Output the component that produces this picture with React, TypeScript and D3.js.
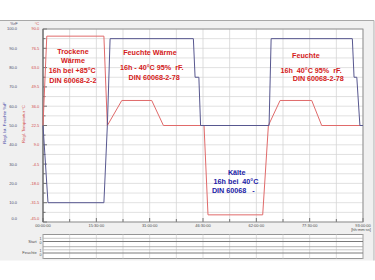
import React, { useEffect } from 'react';
import * as d3 from 'd3';

// Time (hours) and controller set values
const tempTimes = [0, 1.1, 17.7, 18.7, 22.9, 31.6, 35.0, 46.8, 47.95, 63.85, 65.5, 68.9, 78.1, 81.0, 93];
const tempValues = [22.5, 85, 85, 22.5, 40, 40, 22.5, 22.5, -40, -40, 22.5, 40, 40, 22.5, 22.5];
const humTimes = [0, 1.45, 17.7, 18.7, 19.5, 43.7, 44.2, 45.3, 45.8, 65.7, 66.3, 89.9, 90.4, 91.2, 92.1, 93];
const humValues = [50, 10, 10, 50, 95, 95, 75, 75, 50, 50, 95, 95, 75, 75, 50, 50];

const humTicks = [0, 10, 20, 30, 40, 50, 60, 70, 80, 90, 100];
const tempTicks = [-45, -31.5, -18, -4.5, 9, 22.5, 36, 49.5, 63, 76.5, 90];
const timeTicks = [0, 15.5, 31, 46.5, 62, 77.5, 93];
const timeTickLabels = ['00:00:00', '15:30:00', '31:00:00', '46:30:00', '62:00:00', '77:30:00', '93:00:00'];

const textDry = ['Trockene', 'Wärme', '16h bei +85°C', 'DIN 60068-2-2'];
const textDamp = ['Feuchte Wärme', '16h - 40°C 95%  rF.', 'DIN 60068-2-78'];
const textCold = ['Kälte', '16h bei  40°C', 'DIN 60068   -'];
const textHum = ['Feuchte', '16h  40°C 95%  rF.', 'DIN 60068-2-78'];
const digitalChannels = ['Start', 'Feuchte'];

export default function App() {
  useEffect(() => {
    document.body.style.margin = '0';
  }, []);

  const W = 375, H = 280;
  const L = 43, R = 363, T = 29, B = 222;
  const x = d3.scaleLinear().domain([0, 93]).range([L, R]);
  const yH = d3.scaleLinear().domain([0, 100]).range([B, T]);
  const yT = d3.scaleLinear().domain([-45, 90]).range([B, T]);

  const tempLine = d3.line<number>().x((_, i) => x(tempTimes[i])).y((d) => yT(d));
  const humLine = d3.line<number>().x((_, i) => x(humTimes[i])).y((d) => yH(d));

  const gridY = d3.range(0, 100.01, 5);
  const gridX = d3.range(0, 93.01, 7.75);

  const redText = '#d42020';
  const blueText = '#1a1aa6';
  const font = 'Arial, "Liberation Sans", sans-serif';

  const annot = (lines: string[], xs: number[], ys: number[], color: string, key: string) => (
    <g key={key} fill={color} fontFamily={font} fontWeight="bold" fontSize={7.2} textAnchor="middle" style={{ whiteSpace: 'pre' }}>
      {lines.map((t, i) => (
        <text key={i} x={xs[i]} y={ys[i]} dy="0.35em" xmlSpace="preserve">{t}</text>
      ))}
    </g>
  );

  const panelTop = 234.5, panelBot = 258.5;

  return (
    <svg width={W} height={H} style={{ position: 'absolute', left: 0, top: 0, display: 'block' }}>
      <rect x={0} y={0} width={W} height={H} fill="#ffffff" />
      <rect x={0} y={20.5} width={374} height={240} fill="#f0f0f0" />
      <line x1={0} x2={374} y1={20.5} y2={20.5} stroke="#a8a8a8" />
      <line x1={374} x2={374} y1={20.5} y2={260.5} stroke="#b0b0b0" />

      {/* plot area */}
      <rect x={L} y={T} width={R - L} height={B - T} fill="#ffffff" />
      {gridY.map((v) => (
        <line key={'gy' + v} x1={L} x2={R} y1={yH(v)} y2={yH(v)} stroke="#d9d9d9" strokeWidth={0.8} />
      ))}
      {gridX.map((v) => (
        <line key={'gx' + v} x1={x(v)} x2={x(v)} y1={T} y2={B} stroke="#d4d4d4" strokeWidth={0.8} />
      ))}
      {/* left ticks */}
      {gridY.map((v) => (
        <line key={'lt' + v} x1={L} x2={L + (v % 10 === 0 ? 4 : 2.5)} y1={yH(v)} y2={yH(v)} stroke="#555" strokeWidth={0.8} />
      ))}
      {/* bottom ticks */}
      {gridX.map((v, i) => (
        <line key={'bt' + v} x1={x(v)} x2={x(v)} y1={B} y2={B - (i % 2 === 0 ? 4 : 3)} stroke="#555" strokeWidth={0.8} />
      ))}
      <rect x={L} y={T} width={R - L} height={B - T} fill="none" stroke="#8a8a8a" strokeWidth={0.9} />
      <line x1={L} x2={L} y1={T} y2={B} stroke="#555" strokeWidth={0.9} />

      {/* data lines */}
      <path d={tempLine(tempValues) || ''} fill="none" stroke="#e06a6a" strokeWidth={1} />
      <path d={humLine(humValues) || ''} fill="none" stroke="#57578f" strokeWidth={1} />

      {/* annotations */}
      {annot(textDry, [x(8.7), x(8.7), x(8.5), x(8.7)], [51.7, 60.2, 70, 80.7], redText, 'dry')}
      {annot(textDamp, [x(31.1), x(31.6), x(32.3)], [52.7, 67.7, 77], redText, 'damp')}
      {annot(textCold, [x(56.3), x(56.1), x(55.3)], [172.3, 181, 190], blueText, 'cold')}
      {annot(textHum, [x(76.4), x(77.9), x(80.0)], [55.7, 70.3, 78.7], redText, 'hum')}

      {/* y tick labels */}
      <g fontFamily={font} fontSize={4} textAnchor="end">
        {humTicks.map((v) => (
          <text key={'hl' + v} x={17} y={Math.min(yH(v), 219)} dy="0.35em" fill="#4a4a6a">{v.toFixed(1)}</text>
        ))}
        {tempTicks.map((v) => (
          <text key={'tl' + v} x={39.3} y={Math.min(yT(v), 219)} dy="0.35em" fill="#d04848">{v.toFixed(1)}</text>
        ))}
      </g>
      <text x={14} y={23.3} dy="0.35em" fontFamily={font} fontSize={4} textAnchor="middle" fill="#4a4a6a">%rF</text>
      <text x={37} y={23.3} dy="0.35em" fontFamily={font} fontSize={4} textAnchor="middle" fill="#d04848">°C</text>
      <text transform="translate(5,123) rotate(-90)" dy="0.35em" fontFamily={font} fontSize={4.2} textAnchor="middle" fill="#3a3aa0">Regl. Ist. Feuchte %rF</text>
      <text transform="translate(24,124) rotate(-90)" dy="0.35em" fontFamily={font} fontSize={4.2} textAnchor="middle" fill="#d04848">Regl. Temperatur °C</text>

      {/* x tick labels */}
      <g fontFamily={font} fontSize={4} textAnchor="middle" fill="#4a4a4a">
        {timeTicks.map((v, i) => (
          <text key={'xl' + v} x={x(v)} y={225.3} dy="0.35em">{timeTickLabels[i]}</text>
        ))}
        <text x={361} y={229.5} dy="0.35em">[hh:mm:ss]</text>
      </g>

      {/* digital channel panel */}
      <rect x={L} y={panelTop} width={R - L} height={panelBot - panelTop} fill="#ffffff" stroke="#8a8a8a" strokeWidth={0.9} />
      {gridX.map((v) => (
        <line key={'pg' + v} x1={x(v)} x2={x(v)} y1={panelTop} y2={panelBot} stroke="#d4d4d4" strokeWidth={0.8} />
      ))}
      {digitalChannels.map((c, i) => {
        const top = panelTop + i * 11.5;
        return (
          <g key={c}>
            <line x1={L} x2={R} y1={top + 3.8} y2={top + 3.8} stroke="#b8b8b8" strokeWidth={0.8} />
            <line x1={L} x2={R} y1={top + 7} y2={top + 7} stroke="#7a7a7a" strokeWidth={1} />
            {i === 0 && <line x1={L} x2={R} y1={top + 12.2} y2={top + 12.2} stroke="#9a9a9a" strokeWidth={0.8} />}
            <text x={36.7} y={top + 6.8} dy="0.35em" fontFamily={font} fontSize={4} textAnchor="end" fill="#4a4a4a">{c}</text>
            <text x={40.5} y={top + 4.3} dy="0.35em" fontFamily={font} fontSize={3.6} textAnchor="middle" fill="#4a4a4a">1</text>
            <text x={40.5} y={top + 8.5} dy="0.35em" fontFamily={font} fontSize={3.6} textAnchor="middle" fill="#4a4a4a">0</text>
          </g>
        );
      })}
    </svg>
  );
}
